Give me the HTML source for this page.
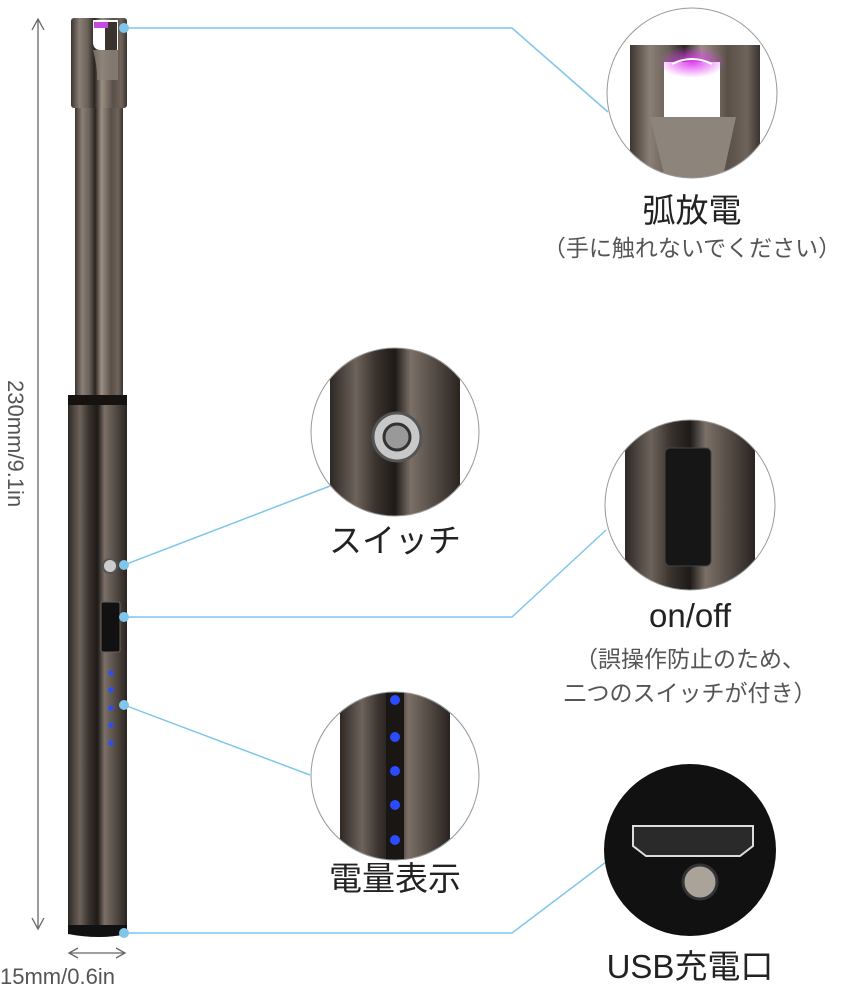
<!DOCTYPE html>
<html><head><meta charset="utf-8"><style>
html,body{margin:0;padding:0;background:#fff}
svg{display:block}
text{font-family:"Liberation Sans","Noto Sans CJK JP",sans-serif}
</style></head><body>
<svg width="860" height="998" viewBox="0 0 860 998" xmlns="http://www.w3.org/2000/svg">
<defs>
<linearGradient id="m" x1="0" x2="1" y1="0" y2="0">
<stop offset="0" stop-color="#3c3530"/><stop offset="0.15" stop-color="#8a7f76"/><stop offset="0.3" stop-color="#6a6058"/><stop offset="0.42" stop-color="#2a2420"/><stop offset="0.55" stop-color="#9a8f85"/><stop offset="0.75" stop-color="#5a5048"/><stop offset="0.9" stop-color="#6e645c"/><stop offset="1" stop-color="#3a332e"/>
</linearGradient>
<linearGradient id="m2" x1="0" x2="1" y1="0" y2="0">
<stop offset="0" stop-color="#2e2824"/><stop offset="0.2" stop-color="#6d635b"/><stop offset="0.35" stop-color="#3a332e"/><stop offset="0.5" stop-color="#1e1a17"/><stop offset="0.62" stop-color="#7a7068"/><stop offset="0.85" stop-color="#4a423c"/><stop offset="1" stop-color="#2a2420"/>
</linearGradient>
<radialGradient id="arc"><stop offset="0" stop-color="#e040f0"/><stop offset="1" stop-color="#e040f0" stop-opacity="0"/></radialGradient>
<clipPath id="c1"><circle cx="692" cy="93" r="85"/></clipPath>
<clipPath id="c2"><circle cx="395" cy="432" r="84"/></clipPath>
<clipPath id="c3"><circle cx="690" cy="505" r="85"/></clipPath>
<clipPath id="c4"><circle cx="395" cy="776" r="84"/></clipPath>
</defs>

<g stroke="#666" stroke-width="1.3" fill="none">
<line x1="38" y1="20" x2="38" y2="928"/>
<polyline points="32,30 38,19 44,30"/>
<polyline points="32,918 38,929 44,918"/>
<line x1="69" y1="953" x2="125" y2="953"/>
<polyline points="78,948 69,953 78,958"/>
<polyline points="116,948 125,953 116,958"/>
</g>
<text x="0" y="0" transform="translate(8,380) rotate(90)" font-size="22" fill="#555">230mm/9.1in</text>
<text x="0" y="984" font-size="22" fill="#555">15mm/0.6in</text>

<!-- lighter -->
<rect x="75" y="106" width="48" height="290" fill="url(#m)"/>
<rect x="71" y="18" width="56" height="90" rx="3" fill="url(#m)"/>
<path d="M93 20 L93 42 Q93 50 101 50 L118 50 L118 20 Z" fill="#fff"/>
<rect x="105" y="22" width="12" height="28" fill="#3a332e"/>
<path d="M93 50 Q98 70 97 80 L118 80 L118 50 Z" fill="#8b8178" opacity="0.8"/>
<rect x="94" y="22" width="14" height="6" fill="#c848e0"/>
<rect x="68" y="395" width="59" height="10" fill="#151210"/>
<rect x="68" y="405" width="59" height="522" fill="url(#m2)"/>
<path d="M68 925 L127 925 L127 934 Q100 940 68 934 Z" fill="#111"/>
<circle cx="110" cy="566" r="7" fill="#ccc" stroke="#555" stroke-width="2"/>
<rect x="101" y="602" width="19" height="50" rx="2" fill="#111" stroke="#6a6058"/>
<g fill="#2a4bff"><circle cx="111" cy="673" r="2.6"/><circle cx="111" cy="690" r="2.6"/><circle cx="111" cy="708" r="2.6"/><circle cx="111" cy="725" r="2.6"/><circle cx="111" cy="743" r="2.6"/></g>

<g stroke="#7fc6ea" stroke-width="1.5" fill="none">
<polyline points="124,28 512,28 608,112"/>
<line x1="124" y1="565" x2="330" y2="486"/>
<polyline points="124,617 512,617 606,530"/>
<line x1="124" y1="705" x2="310" y2="775"/>
<polyline points="124,933 512,933 606,862"/>
</g>
<g fill="#7fc6ea"><circle cx="124" cy="28" r="5"/><circle cx="124" cy="565" r="5"/><circle cx="124" cy="617" r="5"/><circle cx="124" cy="705" r="5"/><circle cx="124" cy="933" r="5"/></g>

<!-- circle 1 -->
<g clip-path="url(#c1)">
<rect x="600" y="0" width="180" height="190" fill="#fff"/>
<rect x="630" y="45" width="130" height="145" fill="url(#m)"/>
<rect x="664" y="62" width="56" height="55" fill="#fff"/>
<path d="M650 117 L736 117 L720 190 L668 190 Z" fill="#8d847c"/>
<ellipse cx="692" cy="62" rx="34" ry="16" fill="url(#arc)"/>
<path d="M672 64 Q692 54 712 64" stroke="#fff" stroke-width="2" fill="none"/>
</g>
<circle cx="692" cy="93" r="85" fill="none" stroke="#999" stroke-width="1"/>
<text x="692" y="222" font-size="33" text-anchor="middle" fill="#222">弧放電</text>
<text x="692" y="256" font-size="23" text-anchor="middle" fill="#555">（手に触れないでください）</text>

<!-- circle 2 -->
<g clip-path="url(#c2)">
<rect x="300" y="340" width="200" height="190" fill="#fff"/>
<rect x="330" y="340" width="130" height="190" fill="url(#m2)"/>
<circle cx="397" cy="437" r="24" fill="#c8c8c8" stroke="#555" stroke-width="3"/>
<circle cx="397" cy="437" r="13" fill="#999" stroke="#333" stroke-width="3"/>
</g>
<circle cx="395" cy="432" r="84" fill="none" stroke="#999"/>
<text x="395" y="552" font-size="33" text-anchor="middle" fill="#222">スイッチ</text>

<!-- circle 3 -->
<g clip-path="url(#c3)">
<rect x="600" y="415" width="180" height="180" fill="#fff"/>
<rect x="625" y="415" width="130" height="180" fill="url(#m2)"/>
<rect x="665" y="448" width="46" height="118" rx="5" fill="#161616" stroke="#444"/>
</g>
<circle cx="690" cy="505" r="85" fill="none" stroke="#999"/>
<text x="690" y="627" font-size="33" text-anchor="middle" fill="#222">on/off</text>
<text x="690" y="667" font-size="23" text-anchor="middle" fill="#555">（誤操作防止のため、</text>
<text x="690" y="701" font-size="23" text-anchor="middle" fill="#555">二つのスイッチが付き）</text>

<!-- circle 4 -->
<g clip-path="url(#c4)">
<rect x="300" y="680" width="200" height="190" fill="#fff"/>
<rect x="340" y="680" width="110" height="190" fill="url(#m2)"/>
<rect x="386" y="680" width="18" height="190" fill="#1a1614"/>
<g fill="#2a4bff"><circle cx="395" cy="700" r="5"/><circle cx="395" cy="737" r="5"/><circle cx="395" cy="771" r="5"/><circle cx="395" cy="805" r="5"/><circle cx="395" cy="840" r="5"/></g>
</g>
<circle cx="395" cy="776" r="84" fill="none" stroke="#999"/>
<text x="395" y="890" font-size="33" text-anchor="middle" fill="#222">電量表示</text>

<!-- circle 5 -->
<circle cx="690" cy="850" r="86" fill="#111"/>
<path d="M633 826 L753 826 L753 846 L740 856 L646 856 L633 846 Z" fill="#2a2a2a" stroke="#ddd" stroke-width="2"/>
<circle cx="700" cy="882" r="17" fill="#aaa39a" stroke="#333" stroke-width="3"/>
<text x="690" y="978" font-size="33" text-anchor="middle" fill="#222">USB充電口</text>
</svg>
</body></html>
